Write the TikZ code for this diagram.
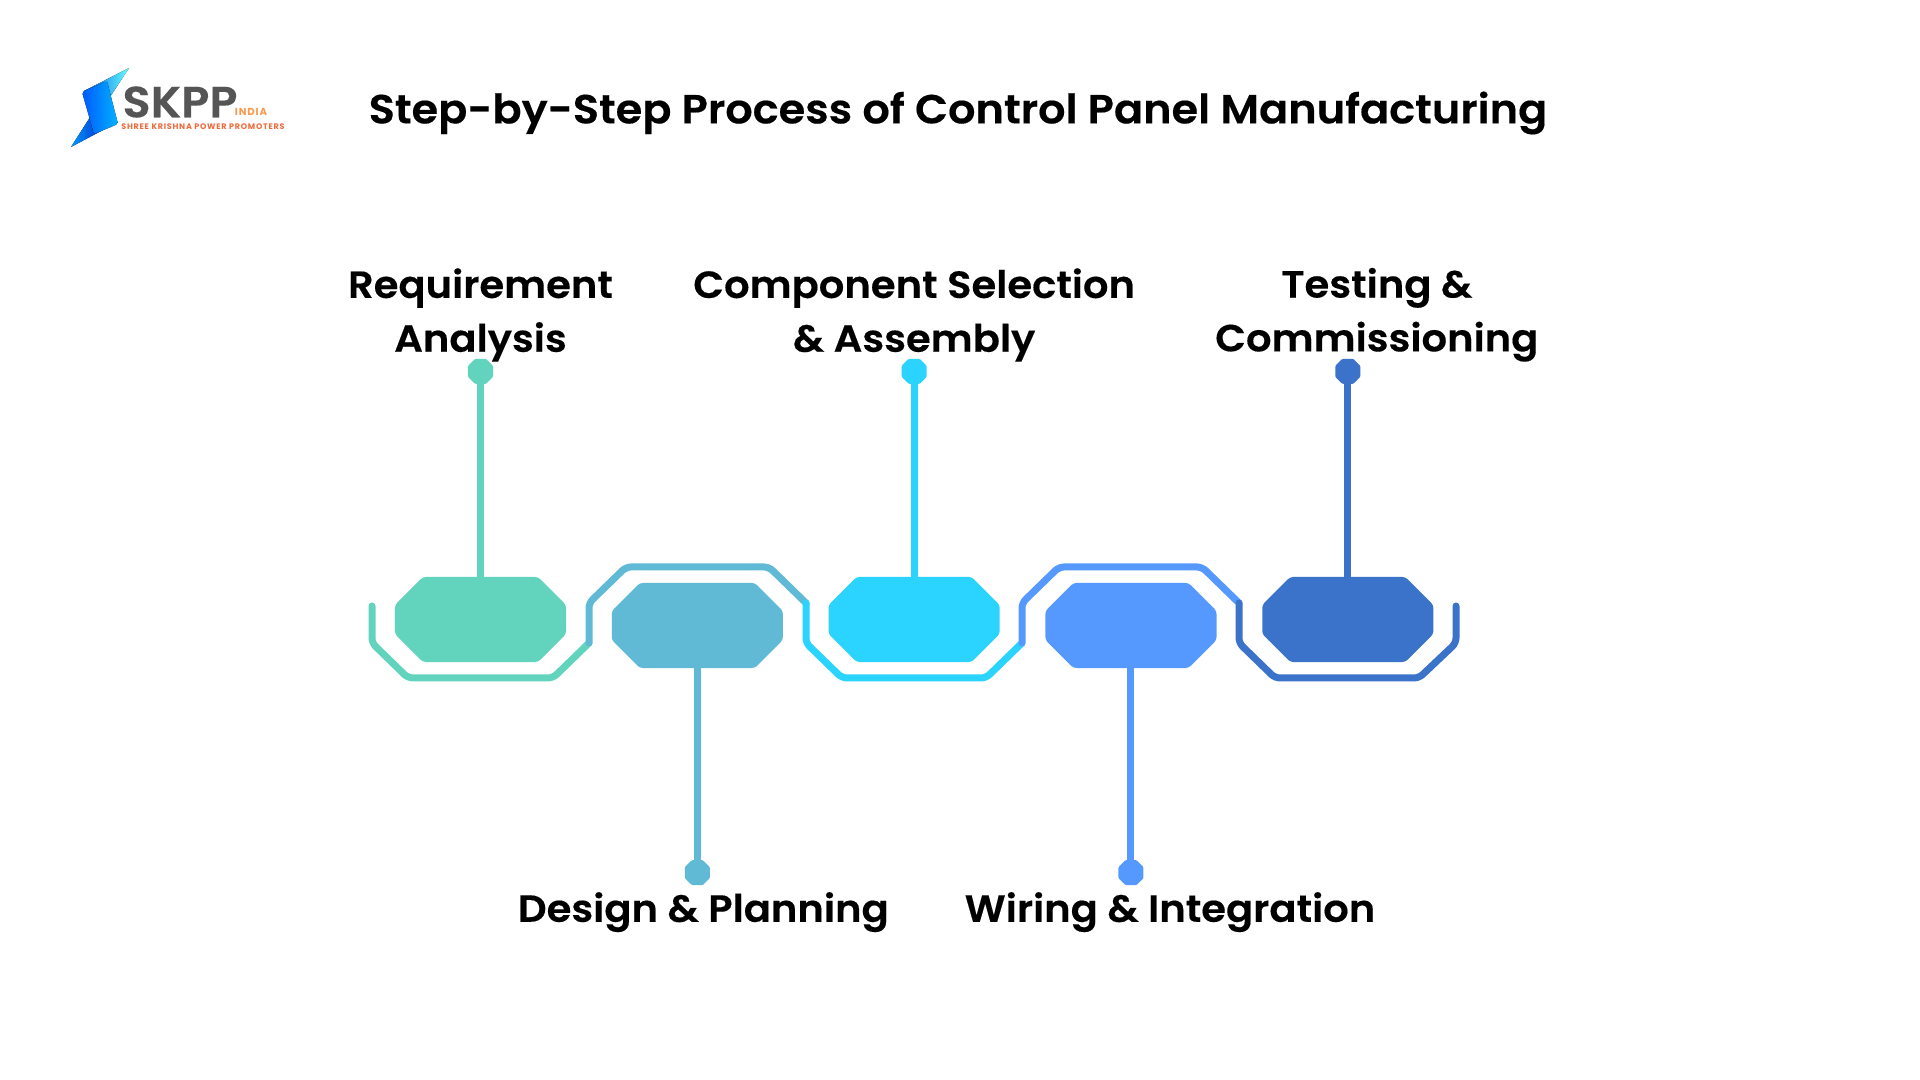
\documentclass[tikz,border=0pt]{standalone}
\usepackage{fontspec}
\setmainfont{Poppins}[BoldFont={Poppins SemiBold},BoldFeatures={FakeBold=0.35},FakeStretch=1.06]
\newfontfamily\tagfont{Poppins}[LetterSpace=9]
\usetikzlibrary{positioning}
\definecolor{tealc}{HTML}{62D4BD}
\definecolor{skyc}{HTML}{60BAD5}
\definecolor{cyanc}{HTML}{2BD3FF}
\definecolor{bluec}{HTML}{5599FF}
\definecolor{navyc}{HTML}{3B73CA}
\definecolor{greyc}{HTML}{555555}
\definecolor{orangec}{HTML}{F79A4E}
\definecolor{redc}{HTML}{EE6A3C}
\newcommand{\octfill}[4]{\fill[#3, rounded corners=#4] ([xshift=#2]#1.north west) -- ([xshift=-#2]#1.north east) -- ([yshift=-#2]#1.north east) -- ([yshift=#2]#1.south east) -- ([xshift=-#2]#1.south east) -- ([xshift=#2]#1.south west) -- ([yshift=#2]#1.south west) -- ([yshift=-#2]#1.north west) -- cycle;}
\begin{document}
\begin{tikzpicture}[
            x=0.01cm, y=-0.01cm,
            octbox/.style={rectangle, minimum width=1.71cm, minimum height=0.85cm, inner sep=0pt, outer sep=0pt},
            tipbox/.style={rectangle, minimum width=0.25cm, minimum height=0.25cm, inner sep=0pt, outer sep=0pt},
            stem/.style={line width=0.07cm},
            trace/.style={line width=0.07cm, rounded corners=0.05cm, line cap=round},
            steptext/.style={font=\fontsize{10.75pt}{15.3pt}\selectfont\bfseries, align=center, text=black, inner sep=0pt},
            headtext/.style={font=\fontsize{11.55pt}{14pt}\selectfont\bfseries, text=black, inner sep=0pt}
        ]
        \useasboundingbox (0,0) rectangle (1920,1080);
        % logo
        \fill[left color=blue!60!cyan!90!black, right color=cyan!60] (129,68) -- (108,100) -- (84,91) -- cycle;
        \fill[left color=cyan!60!blue, right color=blue!70!black] (71,147) -- (96,108) -- (118,122) -- cycle;
        \fill[left color=blue!65!cyan, right color=cyan!70!blue, rounded corners=0.02cm] (82,92) -- (107,81) -- (118,124) -- (94,134) -- cycle;
        \node[font=\fontsize{12.4pt}{12pt}\selectfont\bfseries, text=greyc, inner sep=0pt] (logoname) at (180,102) {SKPP};
        \node[font=\fontsize{2.9pt}{3pt}\tagfont\bfseries, text=orangec, inner sep=0pt] (logoindia) at (251,112) {INDIA};
        \node[font=\fontsize{2.29pt}{3pt}\tagfont\bfseries, text=redc, inner sep=0pt] (logotag) at (203,127) {SHREE KRISHNA POWER PROMOTERS};
        \node[headtext] (title) at (958,113) {Step-by-Step Process of Control Panel Manufacturing};
        % process blocks
        \node[octbox] (req) at (480.5,619.5) {};
        \node[octbox, right=0.457cm of req, yshift=-0.06cm] (design) {};
        \node[octbox, right=0.457cm of design, yshift=0.06cm] (comp) {};
        \node[octbox, right=0.457cm of comp, yshift=-0.06cm] (wiring) {};
        \node[octbox, right=0.457cm of wiring, yshift=0.06cm] (test) {};
        \node[tipbox, above=1.93cm of req] (reqtip) {};
        \node[tipbox, below=1.92cm of design] (designtip) {};
        \node[tipbox, above=1.93cm of comp] (comptip) {};
        \node[tipbox, below=1.92cm of wiring] (wiringtip) {};
        \node[tipbox, above=1.93cm of test] (testtip) {};
        \draw[stem, tealc] (reqtip) -- (req);
        \draw[stem, skyc] (designtip) -- (design);
        \draw[stem, cyanc] (comptip) -- (comp);
        \draw[stem, bluec] (wiringtip) -- (wiring);
        \draw[stem, navyc] (testtip) -- (test);
        \foreach \name/\col in {req/tealc, design/skyc, comp/cyanc, wiring/bluec, test/navyc} {
            \octfill{\name}{0.28cm}{\col}{0.03cm}
            \octfill{\name tip}{0.07cm}{\col}{0.01cm}
        }
        \node[steptext, above=-0.035cm of reqtip] (reqtext) {Requirement\\Analysis};
        \node[steptext, below=0.063cm of designtip, xshift=0.06cm] (designtext) {Design \& Planning};
        \node[steptext, above=-0.035cm of comptip] (comptext) {Component Selection\\\& Assembly};
        \node[steptext, below=0.063cm of wiringtip, xshift=0.39cm] (wiringtext) {Wiring \& Integration};
        \node[steptext, above=-0.035cm of testtip, xshift=0.29cm] (testtext) {Testing \&\\Commissioning};
        % outline traces
        \coordinate (j0) at (372,606);
        \coordinate (j1) at (589,643);
        \coordinate (j2) at (806,603);
        \coordinate (j3) at (1022,643);
        \coordinate (j4) at (1239,603);
        \coordinate (j5) at (1456,606);
        \draw[trace, tealc] (j0) -- ++(0,37) -- ++(36,35) -- ++(145,0) -- (j1);
        \draw[trace, skyc] (j1) -- ++(0,-40) -- ++(37,-36) -- ++(143,0) -- (j2);
        \draw[trace, cyanc] (j2) -- ++(0,40) -- ++(36,35) -- ++(144,0) -- (j3);
        \draw[trace, bluec] (j3) -- ++(0,-40) -- ++(37,-36) -- ++(143,0) -- (j4);
        \draw[trace, navyc] (j4) -- ++(0,40) -- ++(36,35) -- ++(144,0) -- ++(37,-35) -- (j5);
\end{tikzpicture}
\end{document}
